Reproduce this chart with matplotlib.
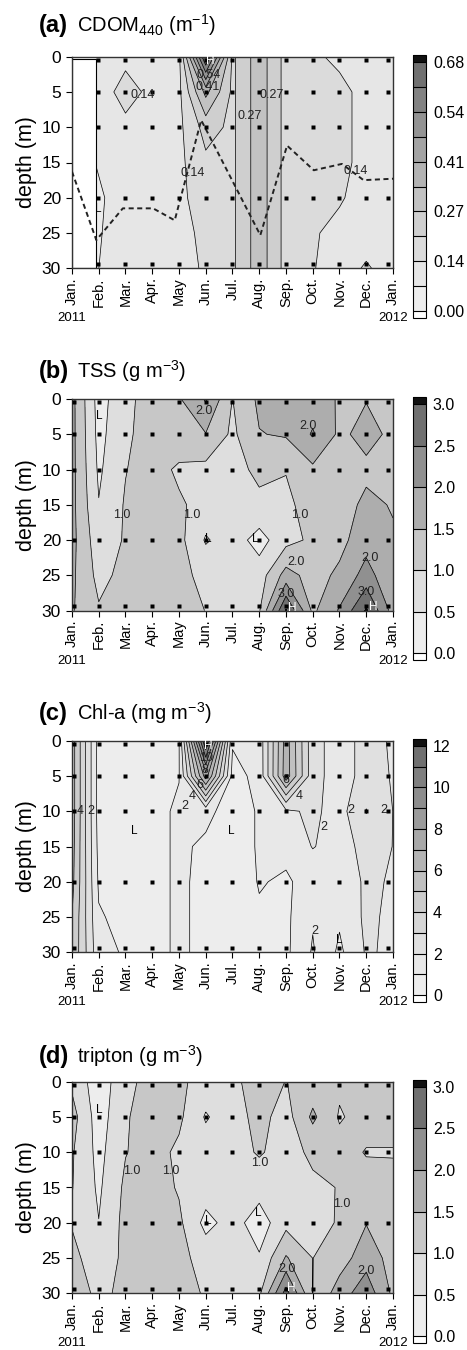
import numpy as np
import matplotlib

matplotlib.use("Agg")
import matplotlib.pyplot as plt
from matplotlib.colors import ListedColormap
from matplotlib.transforms import blended_transform_factory

plt.rcParams["font.family"] = ["Liberation Sans", "DejaVu Sans"]
plt.rcParams["mathtext.fontset"] = "custom"
plt.rcParams["mathtext.rm"] = "Liberation Sans"

# ---- data ---------------------------------------------------------------
MONTH_LABELS = ["Jan.", "Feb.", "Mar.", "Apr.", "May", "Jun.", "Jul.",
                "Aug.", "Sep.", "Oct.", "Nov.", "Dec.", "Jan."]
GRID_DEPTH = [0, 5, 10, 15, 20, 25, 30]
GRID_MONTH = [0, 1, 2, 3, 4, 5, 6, 7, 8, 9, 10, 11, 12]
CDOM_MONTH = [0.91, 2, 3, 4, 5, 6, 7, 8, 9, 10, 11, 12]

SAMPLE_MONTH = [0.07, 1, 2, 3, 4, 5, 6, 7, 8, 9, 10, 11, 11.82]
CDOM_SAMPLE_MONTH = [0.97, 2, 3, 4, 5, 6, 7, 8, 9, 10, 11, 11.82]
SAMPLE_DEPTH = [0.4, 5, 10, 20, 29.4]

# one list per sampling month, values at GRID_DEPTH
CDOM = [
    [0.10, 0.10, 0.10, 0.07, 0.055, 0.06, 0.065],
    [0.12, 0.16, 0.12, 0.10, 0.10, 0.10, 0.10],
    [0.12, 0.12, 0.11, 0.10, 0.10, 0.10, 0.10],
    [0.12, 0.12, 0.12, 0.12, 0.12, 0.11, 0.11],
    [0.69, 0.36, 0.23, 0.19, 0.17, 0.155, 0.145],
    [0.19, 0.19, 0.19, 0.19, 0.19, 0.19, 0.19],
    [0.31, 0.31, 0.31, 0.31, 0.31, 0.31, 0.31],
    [0.18, 0.18, 0.18, 0.18, 0.18, 0.18, 0.18],
    [0.145, 0.15, 0.15, 0.15, 0.15, 0.14, 0.138],
    [0.125, 0.15, 0.15, 0.15, 0.14, 0.125, 0.12],
    [0.12, 0.12, 0.12, 0.12, 0.12, 0.12, 0.14],
    [0.12, 0.12, 0.12, 0.12, 0.12, 0.12, 0.12],
]
MIX_MONTH = [0, 0.91, 1.9, 3.03, 3.84, 4.83, 7.04, 8.04, 9.04, 10.09, 10.9, 12]
MIX_DEPTH = [16.3, 26.0, 21.5, 21.5, 23.2, 9.0, 25.3, 12.6, 16.1, 15.2, 17.5, 17.3]

TSS = [
    [1.65, 1.65, 1.65, 1.65, 1.65, 1.6, 1.55],
    [0.3, 0.35, 0.42, 0.52, 0.7, 0.85, 1.05],
    [0.85, 0.9, 0.98, 1.05, 1.05, 1.15, 1.2],
    [1.25, 1.25, 1.25, 1.25, 1.3, 1.3, 1.3],
    [1.45, 1.4, 0.9, 1.08, 1.15, 1.15, 1.2],
    [2.05, 1.48, 0.85, 0.8, 0.45, 0.85, 0.99],
    [0.99, 0.9, 0.85, 0.8, 0.75, 0.8, 0.85],
    [1.6, 1.48, 1.1, 0.9, 0.3, 0.75, 0.95],
    [1.7, 1.55, 1.02, 0.9, 0.84, 1.7, 3.05],
    [1.75, 2.05, 1.4, 1.2, 1.09, 1.3, 1.4],
    [1.45, 1.4, 1.3, 1.3, 1.35, 1.6, 2.05],
    [1.48, 1.65, 1.4, 1.6, 1.8, 2.2, 3.05],
    [1.4, 1.4, 1.4, 1.47, 1.55, 1.6, 1.8],
]

CHLA = [
    [5.5, 5.5, 5.5, 5.4, 5.3, 5.0, 4.9],
    [0.6, 0.6, 0.6, 0.7, 0.85, 1.1, 1.3],
    [0.6, 0.6, 0.6, 0.6, 0.6, 0.7, 0.9],
    [0.6, 0.6, 0.6, 0.6, 0.6, 0.6, 0.6],
    [0.95, 0.95, 1.2, 1.2, 1.2, 1.2, 1.2],
    [12.2, 7.5, 1.3, 0.8, 0.7, 0.7, 0.7],
    [1.1, 0.7, 0.5, 0.5, 0.5, 0.5, 0.5],
    [1.3, 1.25, 1.1, 1.1, 1.05, 0.9, 0.8],
    [6.5, 6.6, 1.8, 1.2, 0.9, 0.8, 0.8],
    [2.3, 2.3, 2.2, 2.05, 1.3, 1.9, 2.1],
    [1.6, 1.6, 1.6, 1.6, 1.6, 1.15, 0.8],
    [2.3, 2.3, 3.05, 2.3, 2.1, 2.2, 2.1],
    [1.9, 1.95, 1.99, 1.99, 1.95, 1.8, 1.85],
]

TRIPTON = [
    [0.9, 1.2, 1.05, 1.02, 0.95, 1.2, 1.35],
    [0.2, 0.25, 0.35, 0.42, 0.51, 0.6, 0.85],
    [0.85, 0.95, 0.98, 1.1, 1.15, 1.15, 1.15],
    [1.2, 1.25, 1.2, 1.25, 1.3, 1.3, 1.3],
    [1.1, 1.1, 0.9, 0.95, 1.1, 1.15, 1.2],
    [0.8, 0.45, 0.75, 0.75, 0.35, 0.8, 0.95],
    [0.9, 0.8, 0.8, 0.75, 0.7, 0.8, 0.85],
    [1.2, 1.15, 1.05, 0.7, 0.25, 0.55, 0.9],
    [0.99, 0.8, 0.8, 0.85, 0.85, 1.55, 2.7],
    [1.2, 1.6, 1.1, 0.9, 0.92, 0.995, 0.995],
    [1.1, 0.95, 1.2, 1.02, 1.02, 1.25, 1.75],
    [1.2, 1.2, 0.97, 1.2, 1.48, 1.8, 2.3],
    [1.2, 1.2, 0.97, 1.15, 1.2, 1.3, 1.4],
]

# contour labels as printed in the figure: (level, month, depth)
LABELS_A = [(0.136, 2.63, 5.4), (0.136, 4.52, 16.5), (0.136, 10.6, 16.2),
            (0.272, 7.45, 5.4), (0.272, 6.64, 8.4), (0.408, 5.08, 4.3),
            (0.544, 5.12, 2.6)]
LABELS_B = [(1.0, 1.87, 16.5), (1.0, 4.46, 16.5), (1.0, 8.51, 16.5),
            (2.0, 4.92, 1.7), (2.0, 8.82, 3.8), (2.0, 8.36, 23.1),
            (2.0, 11.13, 22.6), (3.0, 8.0, 27.7), (3.0, 11.0, 27.4)]
LABELS_C = [(4, 0.29, 10), (2, 0.72, 10), (10, 5.0, 2.4), (8, 4.96, 4.2),
            (6, 4.77, 6.3), (4, 4.5, 7.9), (2, 4.21, 9.3), (6, 7.99, 5.6),
            (4, 8.51, 7.9), (2, 9.41, 12.3), (2, 10.42, 9.8), (2, 11.65, 9.8),
            (2, 9.07, 27.0)]
LABELS_D = [(1.0, 2.22, 12.7), (1.0, 3.71, 12.7), (1.0, 7.02, 11.5),
            (1.0, 10.07, 17.3), (2.0, 8.04, 26.5), (2.0, 11.0, 26.8)]

# ---- layout (pixels of the 467x1350 canvas) -------------------------------
W, H = 467, 1350
AX_LEFT, AX_RIGHT, AX_H = 72, 393, 211.6
TOPS = [56.7, 399, 740.7, 1081.7]
TITLE_GAP = [25, 21, 20.5, 19]
CB_LEFT, CB_W, CB_H = 413, 13, 263

fig = plt.figure(figsize=(W / 100, H / 100), dpi=100)


def gray_colors(n):
    t = np.linspace(0, 1, n)
    g = 0.93 - 0.49 * t ** 1.3
    return [(v, v, v) for v in g]


def draw_panel(i, tag, title, months, values, levels, fmt, cb_ticks, cb_fmt,
               sample_months, marks, labels):
    top = TOPS[i]
    ax = fig.add_axes([AX_LEFT / W, 1 - (top + AX_H) / H,
                       (AX_RIGHT - AX_LEFT) / W, AX_H / H])
    cax = fig.add_axes([CB_LEFT / W, 1 - (top - 1.7 + CB_H) / H, CB_W / W, CB_H / H])

    z = np.array(values).T
    cmap = ListedColormap(gray_colors(len(levels) - 1))
    cmap.set_over("#111111")
    cmap.set_under("white")
    cf = ax.contourf(months, GRID_DEPTH, z, levels=levels, cmap=cmap, extend="both")
    ax.contour(months, GRID_DEPTH, z, levels=levels, colors="black", linewidths=0.5)

    for lev, x, y in labels:
        ax.text(x, y, fmt % lev, fontsize=9, color="#222222", ha="center",
                va="center", zorder=6)

    mx, my = np.meshgrid(sample_months, SAMPLE_DEPTH)
    ax.plot(mx.ravel(), my.ravel(), "s", ms=2.3, color="black", mec="none", zorder=5)

    for txt, x, y, col in marks:
        ax.text(x, y, txt, color=col, fontsize=8.5, ha="center", va="center", zorder=7)

    ax.set_xlim(0, 12)
    ax.set_ylim(30, 0)
    ax.set_yticks([0, 5, 10, 15, 20, 25, 30])
    ax.set_xticks(GRID_MONTH)
    ax.set_xticklabels(MONTH_LABELS, rotation=90, fontsize=10.5)
    ax.tick_params(axis="y", labelsize=12.5, length=4.5, pad=3.5, direction="out")
    ax.tick_params(axis="x", length=4, pad=2.5, direction="out")
    ax.set_ylabel("depth (m)", fontsize=15.5, labelpad=3)
    for s in ax.spines.values():
        s.set_linewidth(1.0)
        s.set_color("#333333")

    tr = blended_transform_factory(ax.transData, ax.transAxes)
    ax.text(0, -0.236, "2011", transform=tr, ha="center", va="center", fontsize=9.5)
    ax.text(12, -0.236, "2012", transform=tr, ha="center", va="center", fontsize=9.5)

    cb = fig.colorbar(cf, cax=cax, ticks=cb_ticks, format=cb_fmt,
                      extendrect=True, extendfrac=0.028, drawedges=True)
    cb.outline.set_linewidth(0.8)
    cb.dividers.set_linewidth(0.8)
    cb.dividers.set_color("black")
    cax.tick_params(length=0, labelsize=11.5, pad=5)

    y = 1 - (top - TITLE_GAP[i]) / H
    fig.text(39 / W, y, tag, fontsize=17, fontweight="bold", va="baseline")
    fig.text(77 / W, y, title, fontsize=14.5, va="baseline")
    return ax


# (a) CDOM
lev_a = np.linspace(0, 0.68, 11)
ax_a = draw_panel(
    0, "(a)", r"CDOM$_{\mathregular{440}}$ (m$^{\mathregular{-1}}$)",
    CDOM_MONTH, CDOM, lev_a, "%.2f",
    [0, 0.136, 0.272, 0.408, 0.544, 0.68], "%.2f", CDOM_SAMPLE_MONTH,
    [("H", 5.15, 0.6, "white"), ("L", 1.0, 21.6, "black")], LABELS_A,
)
ax_a.axvspan(0, CDOM_MONTH[0], ymin=0, ymax=0.99, facecolor="white",
             edgecolor="black", linewidth=0.8, zorder=1.5)
ax_a.plot(MIX_MONTH, MIX_DEPTH, color="#222222", lw=1.4, dashes=(2.6, 1.8), zorder=4)

# (b) TSS
draw_panel(
    1, "(b)", r"TSS (g m$^{\mathregular{-3}}$)",
    GRID_MONTH, TSS, np.linspace(0, 3, 7), "%.1f",
    [0, 0.5, 1.0, 1.5, 2.0, 2.5, 3.0], "%.1f", SAMPLE_MONTH,
    [("L", 1.03, 2.4, "black"), ("L", 5.1, 19.9, "black"), ("L", 6.85, 19.8, "black"),
     ("H", 8.22, 29.6, "white"), ("H", 11.25, 29.5, "white")], LABELS_B,
)

# (c) Chl-a
draw_panel(
    2, "(c)", r"Chl-a (mg m$^{\mathregular{-3}}$)",
    GRID_MONTH, CHLA, np.linspace(0, 12, 13), "%d",
    [0, 2, 4, 6, 8, 10, 12], "%d", SAMPLE_MONTH,
    [("H", 5.1, 0.7, "white"), ("L", 2.34, 12.8, "black"), ("L", 5.96, 12.8, "black"),
     ("L", 10.0, 28.2, "black")], LABELS_C,
)

# (d) tripton
draw_panel(
    3, "(d)", r"tripton (g m$^{\mathregular{-3}}$)",
    GRID_MONTH, TRIPTON, np.linspace(0, 3, 7), "%.1f",
    [0, 0.5, 1.0, 1.5, 2.0, 2.5, 3.0], "%.1f", SAMPLE_MONTH,
    [("L", 1.01, 4.0, "black"), ("L", 5.1, 19.8, "black"), ("L", 6.98, 18.6, "black"),
     ("H", 8.2, 29.2, "white")], LABELS_D,
)

fig.savefig("out.png", dpi=100)
